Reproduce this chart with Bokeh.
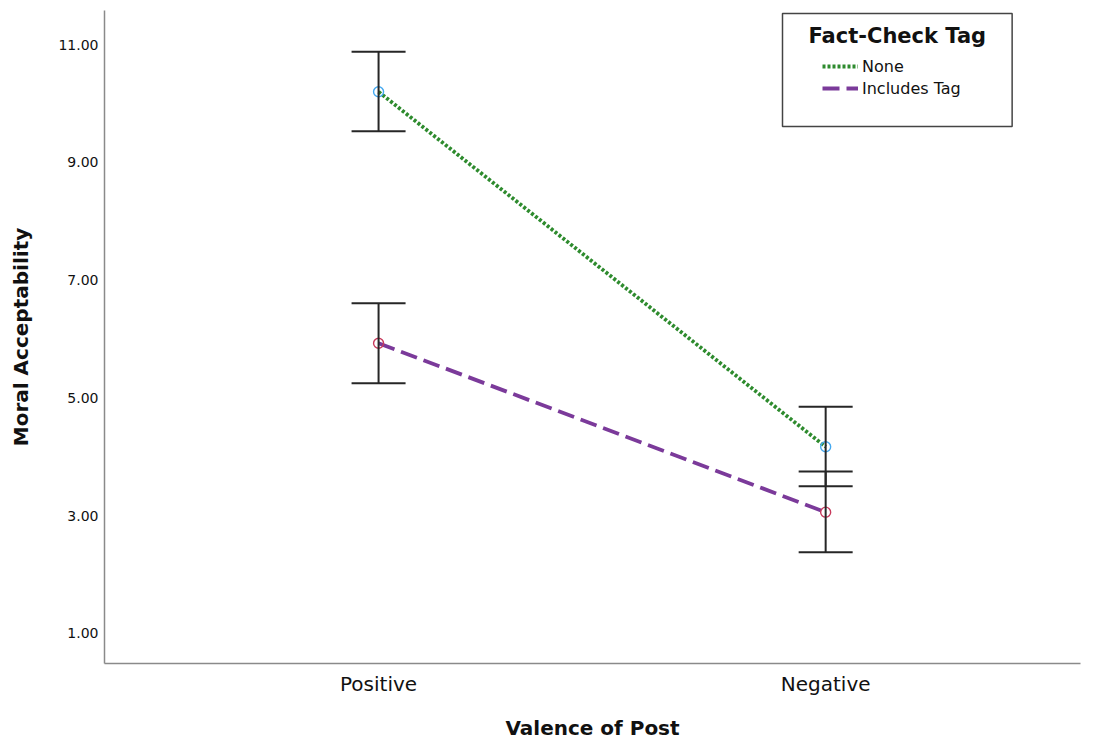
from bokeh.plotting import figure
from bokeh.models import (Range1d, FixedTicker, Legend, LegendItem, NumeralTickFormatter,
                          Whisker, TeeHead, ColumnDataSource, Label)
from bokeh.embed import file_html
from bokeh.resources import INLINE

# Valence categories (x positions 1, 2) and group means with 95% CI bounds
valence = ["Positive", "Negative"]
valence_pos = [1, 2]
group_names = ["None", "Includes Tag"]
legend_title = "Fact-Check Tag"
none_mean = [10.20, 4.17]
none_lo = [9.53, 3.50]
none_hi = [10.88, 4.85]
tag_mean = [5.93, 3.06]
tag_lo = [5.25, 2.38]
tag_hi = [6.61, 3.75]
y_ticks = [1, 3, 5, 7, 9, 11]

FONT = "DejaVu Sans"

p = figure(width=1095, height=742, output_backend="svg", toolbar_location=None,
           x_range=Range1d(0.387, 2.570), y_range=Range1d(0.49, 11.58),
           min_border_left=104, min_border_right=15, min_border_top=10, min_border_bottom=78)
p.outline_line_color = None
p.grid.visible = False
p.background_fill_color = "white"
p.border_fill_color = "white"

# axes
p.xaxis.ticker = FixedTicker(ticks=valence_pos)
p.xaxis.major_label_overrides = {pos: lab for pos, lab in zip(valence_pos, valence)}
p.yaxis.ticker = FixedTicker(ticks=y_ticks)
p.yaxis.formatter = NumeralTickFormatter(format="0.00")
for ax in (p.xaxis, p.yaxis):
    ax.axis_line_color = "#8a8a8a"
    ax.axis_line_width = 1.5
    ax.major_tick_line_color = None
    ax.minor_tick_line_color = None
    ax.major_tick_out = 0
    ax.major_tick_in = 0
    ax.major_label_text_font = FONT
    ax.major_label_text_color = "#111111"
    ax.axis_label_text_font = FONT
    ax.axis_label_text_font_style = "bold"
    ax.axis_label_text_color = "#111111"
    ax.axis_label_text_font_size = "20px"
p.yaxis.major_label_text_font_size = "14px"
p.yaxis.major_label_standoff = 6
p.yaxis.axis_label = "Moral Acceptability"
p.yaxis.axis_label_standoff = 22
p.xaxis.major_label_text_font_size = "20px"
p.xaxis.major_label_standoff = 8
p.xaxis.axis_label = "Valence of Post"
p.xaxis.axis_label_standoff = 17

src_none = ColumnDataSource(dict(x=valence_pos, m=none_mean, lo=none_lo, hi=none_hi))
src_tag = ColumnDataSource(dict(x=valence_pos, m=tag_mean, lo=tag_lo, hi=tag_hi))

# connecting lines
l_none = p.line("x", "m", source=src_none, line_color="#2e8b2e", line_width=3.8, line_dash="3 2")
l_tag = p.line("x", "m", source=src_tag, line_color="#7b3a9a", line_width=3.8, line_dash="17 7")

# error bars
for src in (src_none, src_tag):
    w = Whisker(source=src, base="x", lower="lo", upper="hi", dimension="height",
                line_color="#262626", line_width=2, level="glyph",
                upper_head=TeeHead(size=54, line_color="#262626", line_width=2),
                lower_head=TeeHead(size=54, line_color="#262626", line_width=2))
    p.add_layout(w)

# mean markers
p.scatter("x", "m", source=src_none, marker="circle", size=10, fill_color=None,
          line_color="#45a9f0", line_width=1.4)
p.scatter("x", "m", source=src_tag, marker="circle", size=10, fill_color=None,
          line_color="#c83a5c", line_width=1.4)

# legend box with its title (padding: left, right, top, bottom)
title_box = Label(x=678, y=650, x_units="screen", y_units="screen", text=legend_title,
                  text_font=FONT, text_font_style="bold", text_font_size="21px",
                  text_color="#111111", text_align="left", text_baseline="top",
                  padding=(26, 26, 10, 79),
                  border_line_color="#444444", border_line_width=1.5,
                  background_fill_color="white", background_fill_alpha=1)
p.add_layout(title_box)

legend = Legend(items=[LegendItem(label=group_names[0], renderers=[l_none]),
                       LegendItem(label=group_names[1], renderers=[l_tag])],
                location=(718, 565))
legend.label_text_font = FONT
legend.label_text_font_size = "16px"
legend.label_text_color = "#111111"
legend.glyph_width = 36
legend.glyph_height = 20
legend.label_standoff = 4
legend.label_height = 20
legend.spacing = 2
legend.padding = 0
legend.margin = 0
legend.border_line_color = None
legend.background_fill_alpha = 0
p.add_layout(legend)

open("out.html", "w").write(file_html(p, INLINE))
